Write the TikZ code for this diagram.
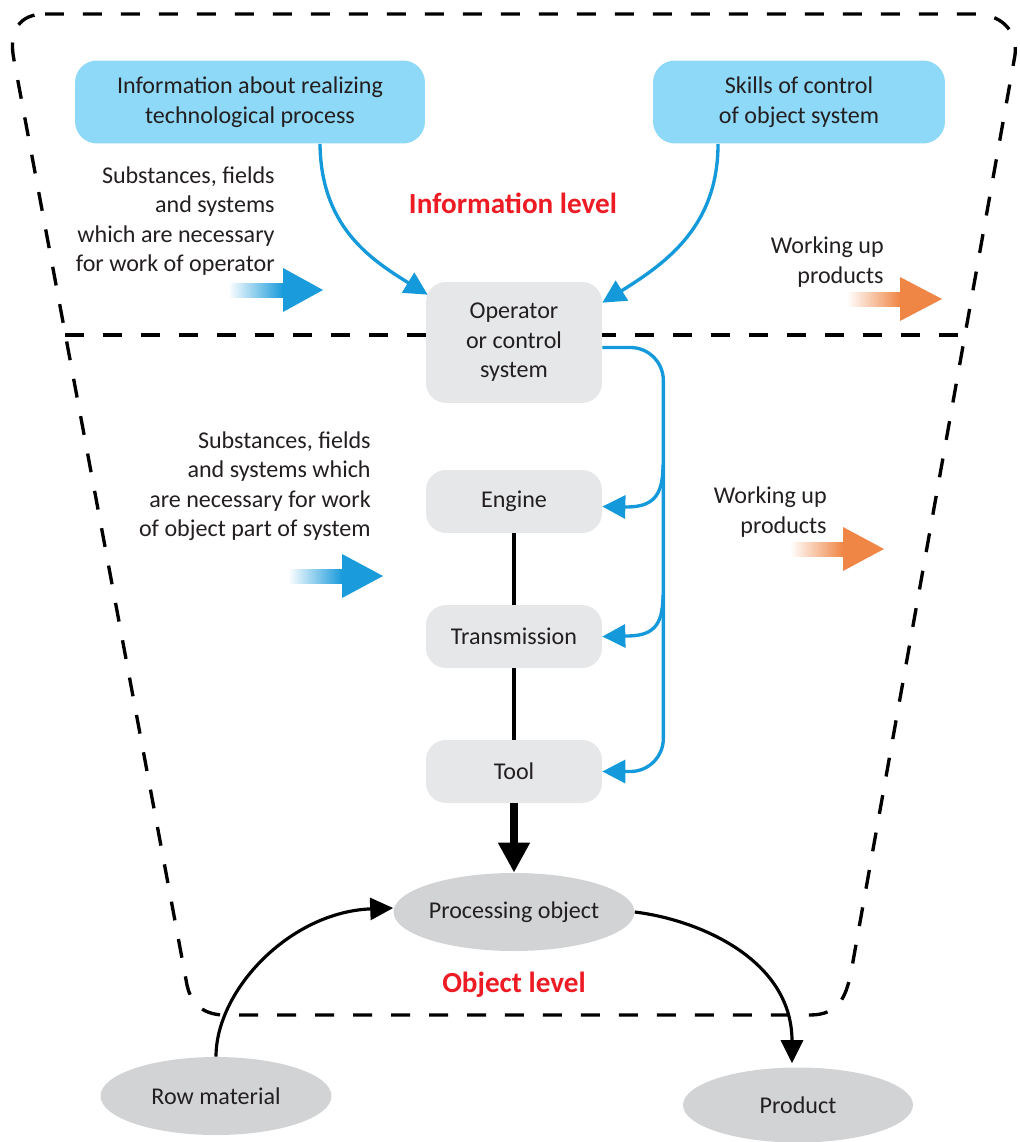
\documentclass[tikz,border=0pt]{standalone}
\usepackage{fontspec}
\setmainfont{Carlito}
\usetikzlibrary{arrows.meta,shapes.geometric,calc}

\definecolor{ink}{HTML}{231F20}
\definecolor{skyfill}{HTML}{8ED8F8}
\definecolor{lineblue}{HTML}{1499DA}
\definecolor{boxgray}{HTML}{E6E7E8}
\definecolor{ovalgray}{HTML}{D1D3D4}
\definecolor{levelred}{HTML}{ED1C24}
\definecolor{flowblue}{HTML}{1A9BDB}
\definecolor{floworange}{HTML}{F08646}

% block arrow with a fading shaft: #1 colour, #2 tail x, #3 head x, #4 tip x, #5 centre y
\newcommand{\fadearrow}[5]{%
  \shade[left color=white, right color=#1] (#2,#5-7) rectangle (#3,#5+7);
  \fill[#1] (#3,#5-22) -- (#4,#5) -- (#3,#5+22) -- cycle;
}

\begin{document}
\begin{tikzpicture}[x=0.02cm, y=-0.02cm,
  every node/.style={text=ink},
  font=\fontsize{13.7}{16.8}\selectfont,
  infobox/.style={fill=skyfill, rounded corners=0.44cm, align=center,
    minimum height=1.66cm, inner sep=0},
  graybox/.style={fill=boxgray, rounded corners=0.4cm, align=center,
    minimum width=3.52cm, inner sep=0},
  oval/.style={ellipse, fill=ovalgray, inner sep=0},
  sidetext/.style={align=right, inner sep=0},
  leveltext/.style={text=levelred, font=\fontsize{16.6}{20}\selectfont\bfseries},
  boundary/.style={draw=black, line width=1.9pt, dash pattern=on 0.38cm off 0.38cm},
  flowline/.style={draw=lineblue, line width=1.9pt},
  bluetip/.style={-{Triangle[length=0.46cm,width=0.46cm]}},
  blacktip/.style={-{Triangle[length=0.46cm,width=0.44cm]}},
  link/.style={draw=black, line width=1.8pt},
]
\useasboundingbox (0,0) rectangle (1019,1142);

% level boundaries
\draw[boundary] (45,14) -- (975,14)
  .. controls (1000,14) and (1018,30) .. (1015,55)
  -- (852,967)
  .. controls (847,995) and (840,1015) .. (810,1015)
  -- (225,1015)
  .. controls (200,1015) and (190,1000) .. (187,985)
  -- (14,60)
  .. controls (8,30) and (20,14) .. (45,14);
\draw[boundary] (65,335) -- (965,335);

% information level
\node[infobox, minimum width=7cm] (info) at (250,102)
  {Information about realizing\\technological process};
\node[infobox, minimum width=5.84cm] (skills) at (799,102)
  {Skills of control\\of object system};
\node[leveltext] (infolevel) at (513,203) {Information level};

% object system chain
\node[graybox, minimum height=2.42cm] (op) at (514,342.5)
  {Operator\\or control\\system};
\node[graybox, minimum height=1.26cm] (engine) at (514,501.5) {Engine};
\node[graybox, minimum height=1.26cm] (trans) at (514,636.5) {Transmission};
\node[graybox, minimum height=1.26cm] (tool) at (514,771.5) {Tool};

\node[oval, minimum width=4.64cm, minimum height=1.56cm] (proc) at (514,912)
  {Processing object};
\node[oval, minimum width=4.62cm, minimum height=1.56cm] (raw) at (216,1096)
  {Row material};
\node[oval, minimum width=4.6cm, minimum height=1.5cm] (prod) at (798,1105)
  {Product};
\node[leveltext] (objlevel) at (514,985) {Object level};

% side labels
\node[sidetext, anchor=east] (subst1) at (275,221)
  {Substances, fields\\and systems\\which are necessary\\for work of operator};
\node[sidetext, anchor=east] (subst2) at (371,486)
  {Substances, fields\\and systems which\\are necessary for work\\of object part of system};
\node[sidetext, anchor=east] (work1) at (884,262) {Working up\\products};
\node[sidetext, anchor=east] (work2) at (827,512) {Working up\\products};

% inflow and outflow arrows
\fadearrow{flowblue}{228}{283}{323}{290}
\fadearrow{flowblue}{288}{342}{383}{576}
\fadearrow{floworange}{847}{900}{942}{299}
\fadearrow{floworange}{790}{843}{884}{549}

% information to the operator
\draw[flowline, bluetip] ([xshift=1.4cm]info.south)
  .. controls (321,225) and (368,258) .. ($(op.north west)+(2,13)$);
\draw[flowline, bluetip] ([xshift=-1.62cm]skills.south)
  .. controls (718,225) and (668,262) .. ($(op.north east)+(0,21)$);

% control bus to the executive parts
\draw[flowline, bluetip, rounded corners=0.66cm]
  ($(op.east)+(0,5)$) -| ($(tool.east)+(61,0)$) -- (tool.east);
\draw[flowline, bluetip] (663,465)
  .. controls (663,497) and (652,507) .. (626,507) -- ($(engine.east)+(0,5)$);
\draw[flowline, bluetip] (663,595)
  .. controls (663,627) and (652,636) .. (626,636) -- (trans.east);

% mechanical chain
\draw[link] (engine.south) -- (trans.north);
\draw[link] (trans.south) -- (tool.north);
\draw[draw=black, line width=0.15cm, -{Triangle[length=0.6cm,width=0.6cm]}]
  (tool.south) -- (proc.north);

% material flow
\draw[link, blacktip] (raw.north)
  .. controls (216,990) and (290,912) .. ($(proc.west)+(0,-4)$);
\draw[link, blacktip] (proc.east)
  .. controls (700,920) and (792,960) .. ($(prod.north)+(-6,-4)$);
\end{tikzpicture}
\end{document}
